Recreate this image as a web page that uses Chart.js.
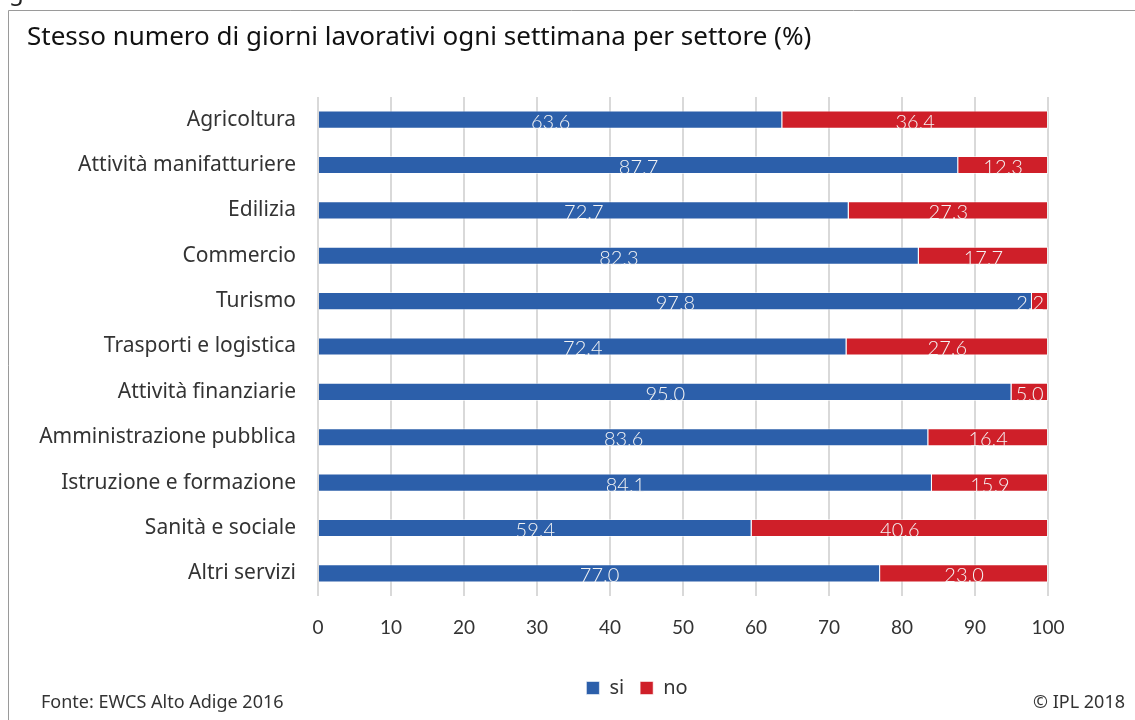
<!DOCTYPE html>
<html>
<head>
<meta charset="utf-8">
<script src="https://cdn.jsdelivr.net/npm/chart.js@4/dist/chart.umd.min.js"></script>
<style>
  html, body { margin: 0; padding: 0; background: #fff; }
  #wrap { position: relative; width: 1135px; height: 720px; }
</style>
</head>
<body>
<div id="wrap"><canvas id="chart" width="1135" height="720"></canvas></div>
<script>
// Sectors and shares (%)
const sectors = [
  'Agricoltura',
  'Attività manifatturiere',
  'Edilizia',
  'Commercio',
  'Turismo',
  'Trasporti e logistica',
  'Attività finanziarie',
  'Amministrazione pubblica',
  'Istruzione e formazione',
  'Sanità e sociale',
  'Altri servizi'
];
const siValues = [63.6, 87.7, 72.7, 82.3, 97.8, 72.4, 95.0, 83.6, 84.1, 59.4, 77.0];
const noValues = [36.4, 12.3, 27.3, 17.7, 2.2, 27.6, 5.0, 16.4, 15.9, 40.6, 23.0];
const xTicks = [0, 10, 20, 30, 40, 50, 60, 70, 80, 90, 100];

const FONT = '"Noto Sans", "Open Sans", sans-serif';
const NUM_FONT = 'Lato, "Noto Sans", sans-serif';
const BLUE = '#2c5faa';
const RED = '#cf1f29';

// frame, title and footer texts
const decorPlugin = {
  id: 'decor',
  afterLayout(chart) {
    // let the long sector names use the space left of the axis box
    chart.scales.y.left = 0;
  },
  beforeDraw(chart) {
    const ctx = chart.ctx;
    ctx.save();
    ctx.fillStyle = '#fff';
    ctx.fillRect(0, 0, chart.width, chart.height);
    ctx.strokeStyle = '#9a9a9a';
    ctx.lineWidth = 1;
    ctx.beginPath();
    ctx.moveTo(8.5, 720);
    ctx.lineTo(8.5, 10.5);
    ctx.lineTo(1135, 10.5);
    ctx.stroke();
    ctx.fillStyle = '#222';
    ctx.font = '24px ' + FONT;
    ctx.textBaseline = 'alphabetic';
    ctx.fillText('g', 9, 0);
    ctx.fillStyle = '#111';
    ctx.font = '26px ' + FONT;
    ctx.textBaseline = 'middle';
    ctx.fillText('Stesso numero di giorni lavorativi ogni settimana per settore (%)', 27, 38);
    ctx.fillStyle = '#333';
    ctx.font = '18px ' + FONT;
    ctx.fillText('Fonte: EWCS Alto Adige 2016', 41, 703);
    ctx.textAlign = 'right';
    ctx.fillText('\u00A9 IPL 2018', 1125, 703);
    ctx.restore();
  }
};

// value labels inside each bar segment
const valueLabels = {
  id: 'valueLabels',
  afterDatasetsDraw(chart) {
    const ctx = chart.ctx;
    const area = chart.chartArea;
    ctx.save();
    ctx.font = '300 20px ' + NUM_FONT;
    ctx.fillStyle = '#f4f4f4';
    ctx.textAlign = 'center';
    ctx.textBaseline = 'middle';
    chart.data.datasets.forEach((ds, i) => {
      const meta = chart.getDatasetMeta(i);
      meta.data.forEach((bar, j) => {
        const txt = ds.data[j].toFixed(1);
        const w = ctx.measureText(txt).width;
        let x = (bar.x + bar.base) / 2;
        x = Math.min(x, area.right - w / 2 - 4);
        ctx.fillText(txt, x, bar.y + 2.5);
      });
    });
    ctx.restore();
  }
};

new Chart(document.getElementById('chart'), {
  type: 'bar',
  data: {
    labels: sectors,
    datasets: [
      {
        label: 'si',
        data: siValues,
        backgroundColor: BLUE,
        borderColor: 'rgba(255,255,255,0.55)',
        borderWidth: 1,
        barPercentage: 0.8,
        categoryPercentage: 0.5
      },
      {
        label: 'no',
        data: noValues,
        backgroundColor: RED,
        borderColor: 'rgba(255,255,255,0.55)',
        borderWidth: 1,
        barPercentage: 0.8,
        categoryPercentage: 0.5
      }
    ]
  },
  options: {
    indexAxis: 'y',
    responsive: false,
    animation: false,
    layout: { padding: { left: 226, right: 87, top: 97, bottom: 12 } },
    scales: {
      x: {
        stacked: true,
        min: 0,
        max: 100,
        afterBuildTicks: s => { s.ticks = xTicks.map(v => ({ value: v })); },
        afterFit: s => { s.height = 66; },
        grid: { color: '#d9d9d9', lineWidth: 2, drawTicks: false },
        border: { display: false },
        ticks: { color: '#333', font: { family: NUM_FONT, size: 19 }, padding: 20 }
      },
      y: {
        stacked: true,
        afterFit: s => { s.width = 92; },
        grid: { display: false, drawTicks: false },
        border: { display: false },
        ticks: { color: '#333', font: { family: FONT, size: 21 }, padding: 22 }
      }
    },
    plugins: {
      legend: {
        position: 'bottom',
        labels: {
          color: '#333',
          font: { family: FONT, size: 20 },
          boxWidth: 13,
          boxHeight: 13,
          padding: 16
        }
      },
      tooltip: { enabled: false }
    }
  },
  plugins: [decorPlugin, valueLabels]
});
</script>
</body>
</html>
